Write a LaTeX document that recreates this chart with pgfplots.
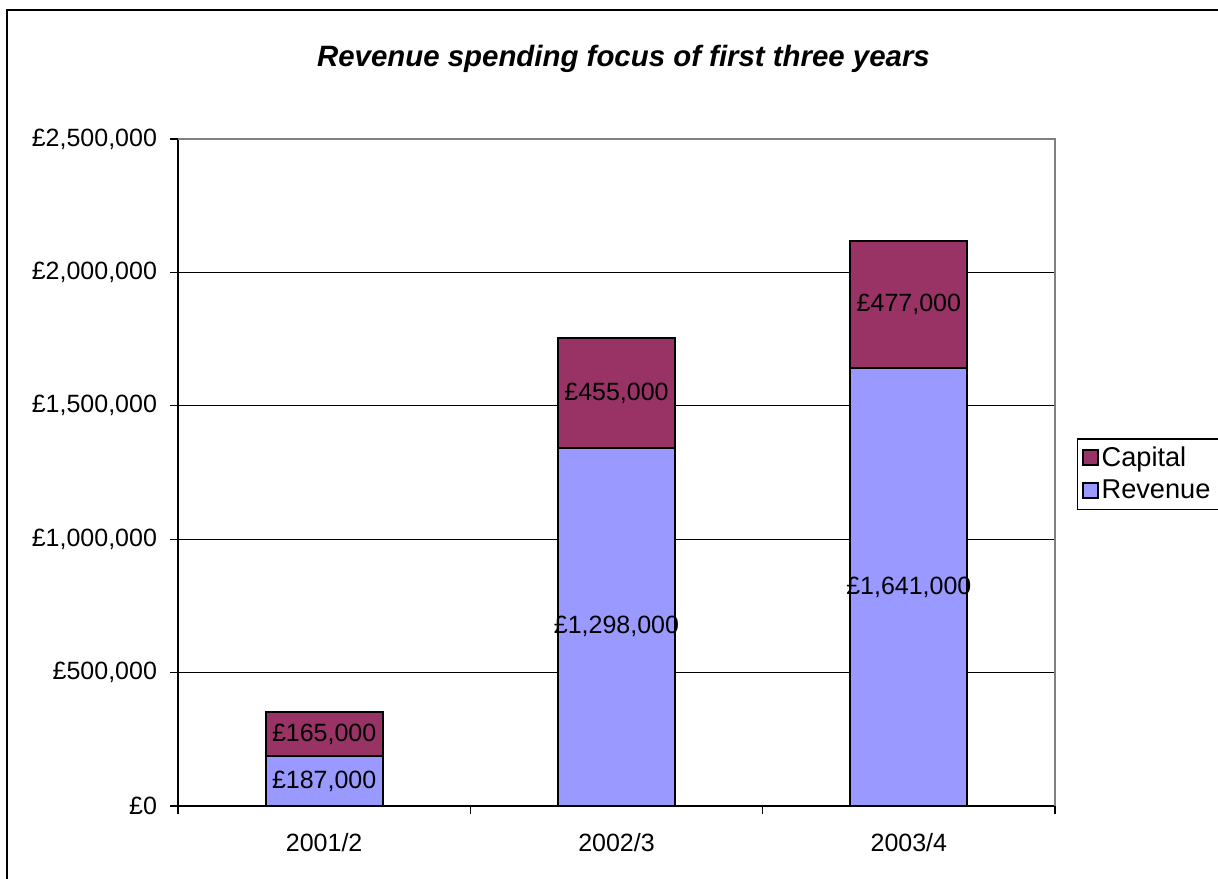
\documentclass[border=0pt]{standalone}
\usepackage{pgfplots}
\pgfplotsset{compat=1.18}
\usepackage{fontspec}
\setmainfont{Liberation Sans}
\definecolor{capital}{HTML}{993366}
\definecolor{revenue}{HTML}{9999FF}
\definecolor{framegray}{HTML}{808080}
\newcommand{\lblfont}{\fontsize{12.5}{15}\selectfont}
\begin{document}
\begin{tikzpicture}
\useasboundingbox (0,0) rectangle (609pt,439pt);
\draw[line width=0.8pt] (3.5pt,-5pt) -- (3.5pt,434pt) -- (615pt,434pt);
\node[font=\fontsize{14.7}{17}\selectfont\bfseries\itshape] at (311.75pt,409.5pt) {Revenue spending focus of first three years};
\begin{axis}[
  name=ax,
  at={(89pt,36pt)}, anchor=south west,
  scale only axis, width=438.5pt, height=333.5pt,
  ybar stacked, bar width=58.5pt,
  xmin=0, xmax=3, ymin=0, ymax=2500000,
  axis lines=left, axis line style={-, line width=0.75pt},
  xtick={0.5,1.5,2.5}, xticklabels={2001/2,2002/3,2003/4},
  minor xtick={0,1,2,3},
  ytick={0,500000,1000000,1500000,2000000,2500000},
  yticklabels={£0,{£500,000},{£1,000,000},{£1,500,000},{£2,000,000},{£2,500,000}},
  scaled y ticks=false,
  tick align=outside, major tick length=4pt, minor tick length=4pt,
  major x tick style={draw=none},
  minor x tick style={black, line width=0.6pt},
  ytick style={black, line width=0.6pt},
  ymajorgrids, grid style={black, line width=0.5pt},
  tick label style={font=\lblfont},
  yticklabel style={xshift=-3pt},
  xticklabel style={yshift=-6pt},
  /pgf/number format/assume math mode=true,
  reverse legend,
  legend cell align=left,
  area legend,
  legend image code/.code={\draw[#1] (0pt,-3.5pt) rectangle (7.5pt,4pt);},
  legend style={at={(1.0251,0.4438)}, anchor=south west, draw=black, line width=0.6pt,
    font=\fontsize{13.6}{16}\selectfont, inner xsep=2pt, inner ysep=2pt, row sep=1pt,
    nodes={inner xsep=1.5pt, text width=60pt, align=left}},
]
\addplot[fill=revenue, draw=black, line width=1pt] coordinates {(0.5,187000) (1.5,1343000) (2.5,1641000)};
\addplot[fill=capital, draw=black, line width=1pt] coordinates {(0.5,165000) (1.5,410000) (2.5,477000)};
\legend{Revenue,Capital}
\coordinate (l1) at (axis cs:0.5,93500);
\coordinate (l2) at (axis cs:0.5,269500);
\coordinate (l3) at (axis cs:1.5,671500);
\coordinate (l4) at (axis cs:1.5,1548000);
\coordinate (l5) at (axis cs:2.5,820500);
\coordinate (l6) at (axis cs:2.5,1879500);
\end{axis}
\draw[framegray, line width=1.2pt] (ax.north west) -- (ax.north east) -- (ax.south east);
\node[font=\lblfont] at (l1) {£187,000};
\node[font=\lblfont] at (l2) {£165,000};
\node[font=\lblfont] at (l3) {£1,298,000};
\node[font=\lblfont] at (l4) {£455,000};
\node[font=\lblfont] at (l5) {£1,641,000};
\node[font=\lblfont] at (l6) {£477,000};
\end{tikzpicture}
\end{document}
